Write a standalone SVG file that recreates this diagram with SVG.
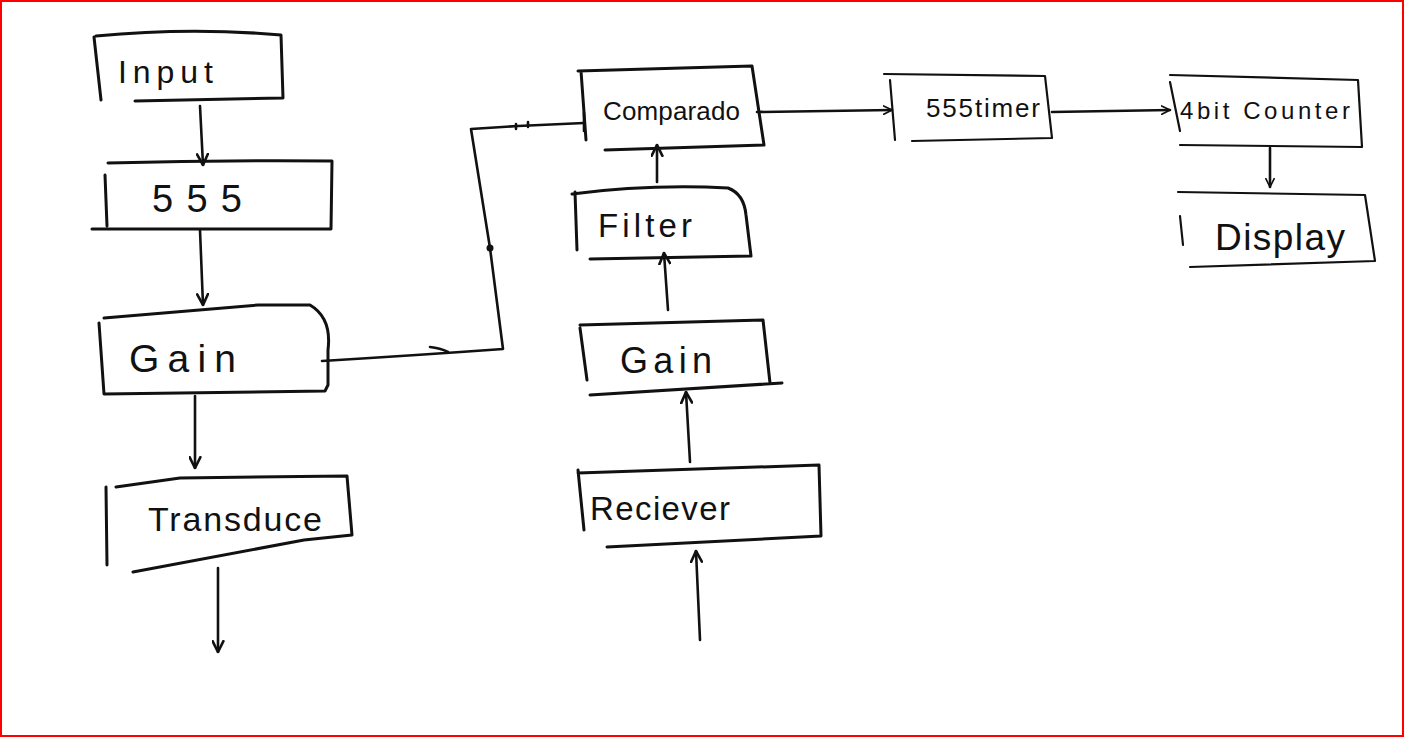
<svg xmlns="http://www.w3.org/2000/svg" width="1404" height="737" viewBox="0 0 1404 737">
<style>
.box{fill:none;stroke:#111;stroke-width:3;stroke-linecap:round;stroke-linejoin:round}
.thin{stroke-width:2.2}
.con{fill:none;stroke:#111;stroke-width:2.6;stroke-linecap:round;stroke-linejoin:round}
.lbl{font-family:"Liberation Sans",Arial,sans-serif;fill:#111}
</style>
<defs>
<marker id="ah" viewBox="0 0 12 12" refX="11" refY="6" markerWidth="13" markerHeight="13" markerUnits="userSpaceOnUse" orient="auto">
<path d="M1,1 L11,6 L1,11" fill="none" stroke="#111" stroke-width="2.4" stroke-linecap="round"/>
</marker>
<marker id="ahs" viewBox="0 0 12 12" refX="11" refY="6" markerWidth="10" markerHeight="10" markerUnits="userSpaceOnUse" orient="auto">
<path d="M1,1 L11,6 L1,11" fill="none" stroke="#111" stroke-width="2" stroke-linecap="round"/>
</marker>
</defs>
<rect x="0" y="0" width="1404" height="737" fill="#ffffff"/>
<rect x="1" y="1" width="1402" height="735" fill="none" stroke="#ff0000" stroke-width="2"/>

<g id="connectors">
<path class="con" d="M200,106 L203,165" marker-end="url(#ah)"/>
<path class="con" d="M200,230 L203,305" marker-end="url(#ah)"/>
<path class="con" d="M195,396 L195,468" marker-end="url(#ah)"/>
<path class="con" d="M218,568 L218,652" marker-end="url(#ah)"/>
<path class="con" d="M322,361 Q420,355 503,349 L490,248 L471,129 L518,126 L584,123"/>
<path class="con" d="M430,347 Q440,348 448,352"/>
<circle cx="490" cy="248" r="3.5" fill="#111"/>
<path class="con" d="M516,124 l0,5 M528,122 l0,5"/>
<path class="con" d="M584,113 l0,18"/>
<path class="con" d="M657,182 L657,145" marker-end="url(#ah)"/>
<path class="con" d="M668,310 L664,253" marker-end="url(#ah)"/>
<path class="con" d="M690,462 L686,392" marker-end="url(#ah)"/>
<path class="con" d="M700,640 L696,551" marker-end="url(#ah)"/>
<path class="con thin" d="M757,112 L892,110" marker-end="url(#ahs)"/>
<path class="con thin" d="M1052,112 L1170,110" marker-end="url(#ahs)"/>
<path class="con thin" d="M1270,148 L1270,187" marker-end="url(#ahs)"/>
</g>

<g id="node-input">
<path class="box" d="M96,36 Q190,27 281,35 L283,98 L135,101 M94,37 L101,100"/>
<text class="lbl" x="118" y="83" font-size="32" textLength="95" lengthAdjust="spacing">Input</text>
</g>
<g id="node-555">
<path class="box" d="M108,163 Q220,160 332,161 L331,229 L92,229 M105,175 L107,226"/>
<text class="lbl" x="152" y="212" font-size="38" textLength="90" lengthAdjust="spacing">555</text>
</g>
<g id="node-gain1">
<path class="box" d="M104,318 L258,305 L310,305 Q332,318 328,350 L328,385 L325,391 L104,394 L99,323"/>
<text class="lbl" x="129" y="372" font-size="39" textLength="107" lengthAdjust="spacing">Gain</text>
</g>
<g id="node-transduce">
<path class="box" d="M116,487 L180,478 L347,476 L352,535 L304,540 L133,572 M106,487 L107,565"/>
<text class="lbl" x="148" y="531" font-size="34" textLength="174" lengthAdjust="spacing">Transduce</text>
</g>
<g id="node-comparado">
<path class="box" d="M578,71 L752,66 L764,145 L605,150 M581,71 L586,140"/>
<text class="lbl" x="603" y="120" font-size="26" textLength="137" lengthAdjust="spacing">Comparado</text>
</g>
<g id="node-filter">
<path class="box" d="M572,194 Q650,184 728,188 Q744,194 746,215 L751,256 L590,259 M575,192 L577,250"/>
<text class="lbl" x="598" y="237" font-size="33" textLength="94" lengthAdjust="spacing">Filter</text>
</g>
<g id="node-gain2">
<path class="box" d="M580,325 L763,320 L770,383 M590,395 L782,383 M580,328 L587,380"/>
<text class="lbl" x="620" y="373" font-size="36" textLength="92" lengthAdjust="spacing">Gain</text>
</g>
<g id="node-reciever">
<path class="box" d="M578,473 L819,465 L821,536 L607,547 M578,470 L584,530"/>
<text class="lbl" x="590" y="520" font-size="33" textLength="140" lengthAdjust="spacing">Reciever</text>
</g>
<g id="node-555timer">
<path class="box thin" d="M884,74 L1045,76 L1052,138 L912,141 M890,80 L895,140"/>
<text class="lbl" x="926" y="117" font-size="26" textLength="114" lengthAdjust="spacing">555timer</text>
</g>
<g id="node-counter">
<path class="box thin" d="M1170,75 L1358,80 L1362,147 L1180,145 M1170,82 L1180,131"/>
<text class="lbl" x="1180" y="119" font-size="24" textLength="170" lengthAdjust="spacing">4bit  Counter</text>
</g>
<g id="node-display">
<path class="box thin" d="M1178,192 L1365,195 L1375,261 L1190,267 M1180,216 L1183,245"/>
<text class="lbl" x="1215" y="250" font-size="37" textLength="130" lengthAdjust="spacing">Display</text>
</g>
</svg>
